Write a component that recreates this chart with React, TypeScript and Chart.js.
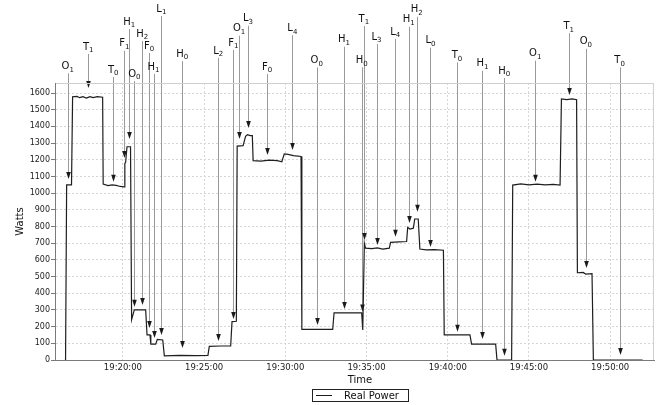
import { useEffect, useRef } from "react";
import { Chart, registerables } from "chart.js";

Chart.register(...registerables);

// ---- data ----
const times = [
  "19:16:28", "19:16:32", "19:16:50", "19:16:54", "19:17:10", "19:17:20", "19:17:32", "19:17:45",
  "19:17:58", "19:18:10", "19:18:25", "19:18:45", "19:18:47", "19:19:05", "19:19:20", "19:19:35",
  "19:19:50", "19:20:04", "19:20:07", "19:20:10", "19:20:15", "19:20:28", "19:20:32", "19:20:42",
  "19:21:24", "19:21:29", "19:21:40", "19:21:43", "19:22:01", "19:22:07", "19:22:27", "19:22:33",
  "19:23:30", "19:24:30", "19:25:14", "19:25:19", "19:26:00", "19:26:38", "19:26:43", "19:26:59",
  "19:27:02", "19:27:24", "19:27:33", "19:27:40", "19:27:50", "19:27:58", "19:28:01", "19:28:30",
  "19:29:00", "19:29:30", "19:29:47", "19:29:56", "19:30:10", "19:30:30", "19:30:58", "19:31:01",
  "19:32:55", "19:33:00", "19:34:42", "19:34:46", "19:34:52", "19:34:56", "19:35:20", "19:35:40",
  "19:36:00", "19:36:24", "19:36:29", "19:37:00", "19:37:28", "19:37:32", "19:37:40", "19:37:53",
  "19:37:58", "19:38:11", "19:38:17", "19:38:40", "19:39:10", "19:39:44", "19:39:47", "19:41:22",
  "19:41:28", "19:42:57", "19:43:02", "19:43:56", "19:44:00", "19:44:30", "19:45:00", "19:45:30",
  "19:46:00", "19:46:30", "19:46:55", "19:47:00", "19:47:20", "19:47:40", "19:47:56", "19:47:59",
  "19:48:20", "19:48:30", "19:48:53", "19:48:58", "19:52:00",
];
const watts = [
  0, 1050, 1050, 1578, 1580, 1572, 1578, 1570,
  1578, 1572, 1578, 1575, 1055, 1045, 1050, 1046,
  1040, 1038, 1178, 1185, 1278, 1278, 242, 300,
  300, 150, 150, 95, 95, 124, 120, 25,
  28, 26, 28, 82, 84, 84, 230, 232,
  1282, 1285, 1340, 1350, 1345, 1345, 1195, 1192,
  1198, 1195, 1188, 1235, 1232, 1225, 1220, 184,
  183, 283, 283, 180, 700, 670, 668, 672,
  665, 670, 705, 708, 710, 795, 785, 790,
  845, 845, 665, 660, 662, 658, 150, 150,
  95, 95, 0, 0, 1048, 1055, 1050, 1054,
  1050, 1053, 1048, 1564, 1560, 1565, 1560, 523,
  525, 515, 518, 0, 0,
];
const seriesLabel = "Real Power";

const xMinTime = "19:15:49";
const xMaxTime = "19:52:42";
const xTickTimes = ["19:20:00", "19:25:00", "19:30:00", "19:35:00", "19:40:00", "19:45:00", "19:50:00"];
const yMin = 0;
const yMax = 1660;
const yStep = 100;

// event annotations
const annTimes = [
  "19:16:36", "19:17:52", "19:19:24", "19:20:05", "19:20:23", "19:20:42", "19:21:11", "19:21:37",
  "19:21:53", "19:22:22", "19:23:39", "19:25:52", "19:26:48", "19:27:09", "19:27:42", "19:28:53",
  "19:30:26", "19:31:56", "19:33:37", "19:34:42", "19:34:50", "19:35:37", "19:36:46", "19:37:36",
  "19:38:05", "19:38:56", "19:40:34", "19:42:08", "19:43:29", "19:45:23", "19:47:27", "19:48:30",
  "19:50:35",
];
const annLetters = [
  "O", "T", "T", "F", "H", "O", "H", "F",
  "H", "L", "H", "L", "F", "O", "L", "F",
  "L", "O", "H", "H", "T", "L", "L", "H",
  "H", "L", "T", "H", "H", "O", "T", "O",
  "T",
];
const annSubs = [
  "1", "1", "0", "1", "1", "0", "2", "0",
  "1", "1", "0", "2", "1", "1", "3", "0",
  "4", "0", "1", "0", "1", "3", "4", "1",
  "2", "0", "0", "1", "0", "1", "1", "0",
  "0",
];
// label height, in watts on the y scale
const annLabelLevels = [
  1760, 1876, 1738, 1895, 2025, 1714, 1954, 1882,
  1756, 2103, 1834, 1852, 1900, 1985, 2045, 1756,
  1988, 1796, 1919, 1796, 2043, 1936, 1966, 2039,
  2099, 1913, 1826, 1776, 1732, 1836, 2000, 1907,
  1795,
];
// arrow tip, in watts
const annTargets = [
  1085, 1630, 1068, 1210, 1324, 319, 330, 192,
  132, 150, 72, 114, 246, 1324, 1390, 1228,
  1258, 210, 306, 290, 719, 689, 739, 821,
  889, 677, 170, 126, 26, 1068, 1588, 551,
  30,
];

function toSec(t: string): number {
  const [h, m, s] = t.split(":").map(Number);
  return h * 3600 + m * 60 + s;
}
function fmt(v: number): string {
  const h = Math.floor(v / 3600);
  const m = Math.floor((v % 3600) / 60);
  const s = Math.round(v % 60);
  const p = (n: number) => String(n).padStart(2, "0");
  return `${p(h)}:${p(m)}:${p(s)}`;
}

const FONT = "'DejaVu Sans', Verdana, sans-serif";

const annotationPlugin = {
  id: "events",
  beforeDatasetsDraw(chart: any) {
    const { ctx, scales } = chart;
    const xs = scales.x;
    const ys = scales.y;
    ctx.save();
    for (let i = 0; i < annTimes.length; i++) {
      const px = Math.round(xs.getPixelForValue(toSec(annTimes[i]))) + 0.5;
      const ly = ys.getPixelForValue(annLabelLevels[i]);
      const ty = ys.getPixelForValue(annTargets[i]);
      ctx.strokeStyle = "#9a9a9a";
      ctx.lineWidth = 1;
      ctx.beginPath();
      ctx.moveTo(px, ly + 7);
      ctx.lineTo(px, ty - 6);
      ctx.stroke();
      ctx.fillStyle = "#1a1a1a";
      ctx.beginPath();
      ctx.moveTo(px - 2.3, ty - 7);
      ctx.lineTo(px + 2.3, ty - 7);
      ctx.lineTo(px, ty);
      ctx.closePath();
      ctx.fill();
    }
    ctx.restore();
  },
  afterDraw(chart: any) {
    const { ctx, scales, chartArea } = chart;
    const xs = scales.x;
    const ys = scales.y;
    ctx.save();
    // top & right frame
    ctx.strokeStyle = "#cfcfcf";
    ctx.lineWidth = 1;
    ctx.setLineDash([]);
    ctx.beginPath();
    ctx.moveTo(chartArea.left, Math.round(chartArea.top) + 0.5);
    ctx.lineTo(Math.round(chartArea.right) - 0.5, Math.round(chartArea.top) + 0.5);
    ctx.lineTo(Math.round(chartArea.right) - 0.5, chartArea.bottom);
    ctx.stroke();

    // axis lines (solid)
    ctx.strokeStyle = "#7a7a7a";
    ctx.beginPath();
    ctx.moveTo(Math.round(chartArea.left) + 0.5, chartArea.top);
    ctx.lineTo(Math.round(chartArea.left) + 0.5, Math.round(chartArea.bottom) + 0.5);
    ctx.lineTo(chartArea.right, Math.round(chartArea.bottom) + 0.5);
    ctx.stroke();

    // labels
    ctx.fillStyle = "#111";
    ctx.textBaseline = "middle";
    for (let i = 0; i < annTimes.length; i++) {
      const px = xs.getPixelForValue(toSec(annTimes[i]));
      const ly = ys.getPixelForValue(annLabelLevels[i]);
      ctx.font = `10px ${FONT}`;
      const w1 = ctx.measureText(annLetters[i]).width;
      ctx.font = `7px ${FONT}`;
      const w2 = ctx.measureText(annSubs[i]).width;
      const x0 = px - (w1 + w2) / 2;
      ctx.textAlign = "left";
      ctx.font = `10px ${FONT}`;
      ctx.fillText(annLetters[i], x0, ly);
      ctx.font = `7px ${FONT}`;
      ctx.fillText(annSubs[i], x0 + w1, ly + 3.5);
    }

    // axis titles
    ctx.fillStyle = "#111";
    ctx.font = `10px ${FONT}`;
    ctx.textAlign = "center";
    ctx.fillText("Time", 360, 380);
    ctx.save();
    ctx.translate(20, (chartArea.top + chartArea.bottom) / 2);
    ctx.rotate(-Math.PI / 2);
    ctx.fillText("Watts", 0, 0);
    ctx.restore();

    // legend
    const ds = chart.data.datasets[0];
    ctx.strokeStyle = "#222";
    ctx.lineWidth = 1;
    ctx.strokeRect(312.5, 389.5, 96, 12);
    ctx.strokeStyle = ds.borderColor;
    ctx.beginPath();
    ctx.moveTo(316, 395.5);
    ctx.lineTo(332, 395.5);
    ctx.stroke();
    ctx.fillStyle = "#111";
    ctx.textAlign = "left";
    ctx.fillText(ds.label, 344, 396);
    ctx.restore();
  },
};

export default function App() {
  const ref = useRef<HTMLCanvasElement | null>(null);
  useEffect(() => {
    if (!ref.current) return;
    const points = times.map((t, i) => ({ x: toSec(t), y: watts[i] }));
    const chart = new Chart(ref.current, {
      type: "line",
      data: {
        datasets: [
          {
            label: seriesLabel,
            data: points,
            borderColor: "#1e1e1e",
            borderWidth: 1.2,
            pointRadius: 0,
            tension: 0,
            fill: false,
          },
        ],
      },
      options: {
        animation: false,
        responsive: false,
        maintainAspectRatio: false,
        events: [],
        layout: { padding: { top: 83, right: 5, left: 0, bottom: 0 } },
        plugins: {
          legend: { display: false },
          tooltip: { enabled: false },
          title: { display: false },
        },
        scales: {
          x: {
            type: "linear",
            min: toSec(xMinTime),
            max: toSec(xMaxTime),
            afterBuildTicks: (scale: any) => {
              scale.ticks = xTickTimes.map((t) => ({ value: toSec(t) }));
            },
            afterFit: (scale: any) => {
              scale.height = 45;
            },
            ticks: {
              autoSkip: false,
              maxRotation: 0,
              padding: 3,
              color: "#222",
              font: { family: FONT, size: 8.5 },
              callback: (v: any) => fmt(Number(v)),
            },
            grid: {
              color: "#d6d6d6",
              drawTicks: false,
            },
            border: { color: "#7a7a7a", width: 1, dash: [2, 2] },
          },
          y: {
            type: "linear",
            min: yMin,
            max: yMax,
            afterFit: (scale: any) => {
              scale.width = 55;
            },
            ticks: {
              stepSize: yStep,
              includeBounds: false,
              padding: 1,
              color: "#222",
              font: { family: FONT, size: 8 },
              callback: (v: any) => String(v),
            },
            grid: {
              color: "#d6d6d6",
              tickColor: "#7a7a7a",
              tickLength: 4,
              drawTicks: true,
            },
            border: { color: "#7a7a7a", width: 1, dash: [2, 2] },
          },
        },
      } as any,
      plugins: [annotationPlugin],
    });
    return () => chart.destroy();
  }, []);
  return (
    <div style={{ position: "fixed", left: 0, top: 0, width: 659, height: 405, background: "#fff" }}>
      <canvas ref={ref} width={659} height={405} style={{ width: 659, height: 405 }} />
    </div>
  );
}
